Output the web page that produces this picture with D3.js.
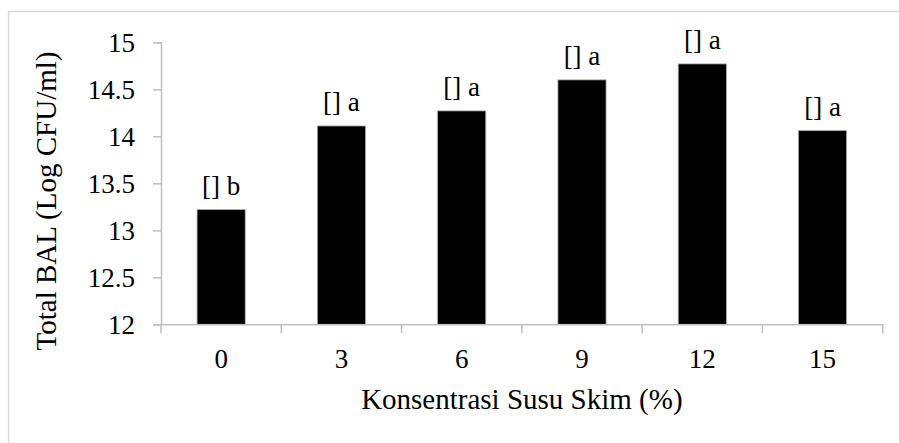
<!DOCTYPE html>
<html><head><meta charset="utf-8">
<script src="https://cdn.jsdelivr.net/npm/d3@7"></script>
<style>body{margin:0;background:#fff}svg{display:block}</style>
</head><body><svg id="c" width="899" height="443"></svg>
<script>
const categories = ["0","3","6","9","12","15"];
const values = [13.22, 14.11, 14.27, 14.60, 14.77, 14.06];
const letters = ["[] b","[] a","[] a","[] a","[] a","[] a"];
const yTicks = [12, 12.5, 13, 13.5, 14, 14.5, 15];
const xTitle = "Konsentrasi Susu Skim (%)";
const yTitle = "Total BAL (Log CFU/ml)";

(function(){
const svg = d3.select("#c");
const font = "'Liberation Serif','Times New Roman',serif";
svg.append("rect").attr("x",8.5).attr("y",11.5).attr("width",1000).attr("height",1000)
  .attr("fill","#fff").attr("stroke","#d9d9d9").attr("stroke-width",1.5);

const pl = 161, pr = 882.7, pt = 42.3, pb = 324.3;
const x = d3.scaleBand().domain(categories).range([pl,pr]).paddingInner(0.6).paddingOuter(0.3);
const xb = d3.scaleBand().domain(categories).range([pl,pr]);
const y = d3.scaleLinear().domain([12,15]).range([pb,pt]);

const g = svg.append("g");
g.selectAll("rect.bar").data(values).join("rect").attr("class","bar")
  .attr("x",(d,i)=>x(categories[i])).attr("width",x.bandwidth())
  .attr("y",d=>y(d)).attr("height",d=>pb-y(d))
  .attr("fill","#000").attr("stroke","#a6a6a6").attr("stroke-width",0.8);

g.selectAll("text.lab").data(values).join("text").attr("class","lab")
  .attr("x",(d,i)=>xb(categories[i])+xb.bandwidth()/2).attr("y",d=>y(d)-15)
  .attr("text-anchor","middle").attr("font-family",font).attr("font-size",27).attr("fill","#000")
  .text((d,i)=>letters[i]);

const ya = svg.append("g").attr("transform",`translate(${pl},0)`)
  .call(d3.axisLeft(y).tickValues(yTicks).tickSize(8).tickPadding(18).tickFormat(d=>String(d)));
ya.select(".domain").attr("stroke","#bfbfbf").attr("stroke-width",1.5);
ya.selectAll(".tick line").attr("stroke","#bfbfbf").attr("stroke-width",1.5);
ya.selectAll(".tick text").attr("font-family",font).attr("font-size",27).attr("fill","#000").attr("dy","0.34em");

const xa = svg.append("g").attr("transform",`translate(0,${pb})`)
  .call(d3.axisBottom(xb).tickSize(0).tickPadding(0));
xa.select(".domain").attr("stroke","#bfbfbf").attr("stroke-width",1.5);
xa.selectAll(".tick text").attr("font-family",font).attr("font-size",27).attr("fill","#000")
  .attr("y",44).attr("dy",0);
const bounds = categories.map(c=>xb(c)).concat([pr]);
xa.selectAll("line.sep").data(bounds).join("line").attr("class","sep")
  .attr("x1",d=>d).attr("x2",d=>d).attr("y1",0).attr("y2",9)
  .attr("stroke","#bfbfbf").attr("stroke-width",1.5);

svg.append("text").attr("x",(pl+pr)/2).attr("y",409).attr("text-anchor","middle")
  .attr("font-family",font).attr("font-size",29).attr("fill","#000").text(xTitle);
svg.append("text").attr("transform","translate(56,201) rotate(-90)").attr("text-anchor","middle")
  .attr("font-family",font).attr("font-size",29).attr("fill","#000").text(yTitle);
})();
</script></body></html>
